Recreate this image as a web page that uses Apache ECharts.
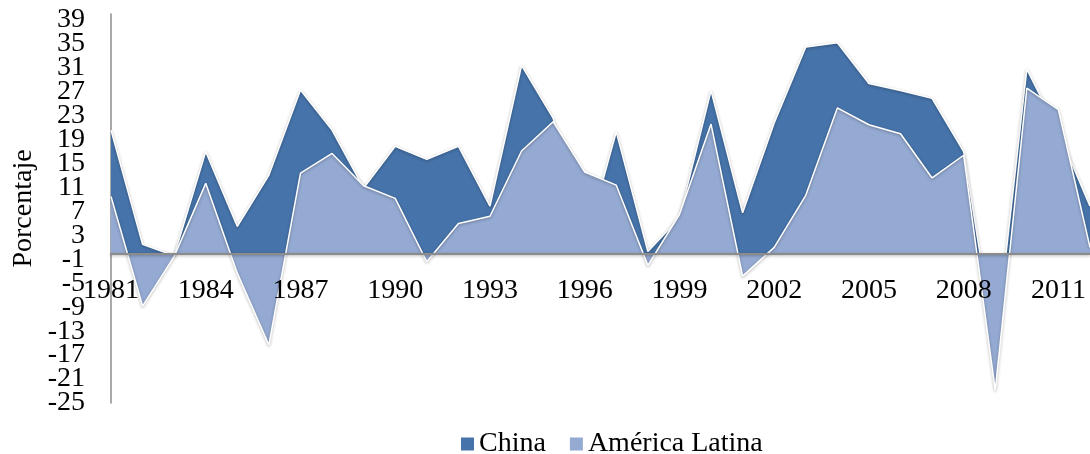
<!DOCTYPE html>
<html>
<head>
<meta charset="utf-8">
<script src="https://cdn.jsdelivr.net/npm/echarts@6/dist/echarts.min.js"></script>
<style>
  html, body { margin: 0; padding: 0; background: #ffffff; }
  #chart { width: 1090px; height: 454px; }
</style>
</head>
<body>
<div id="chart"></div>
<script>
// Crecimiento anual (%), 1981-2012
const years = [
  '1981','1982','1983','1984','1985','1986','1987','1988','1989','1990',
  '1991','1992','1993','1994','1995','1996','1997','1998','1999','2000',
  '2001','2002','2003','2004','2005','2006','2007','2008','2009','2010',
  '2011','2012'
];
const china = [
  20.6, 1.5, -0.4, 17.0, 4.5, 13.1, 27.3, 20.6, 10.9, 17.9,
  15.7, 17.9, 7.9, 31.4, 22.6, 1.2, 20.3, 0.3, 5.9, 27.2,
  6.8, 21.8, 34.5, 35.2, 28.4, 27.2, 25.9, 17.0, -16.0, 30.8,
  20.3, 7.9
];
const americaLatina = [
  9.5, -8.8, -0.5, 11.7, -3.3, -15.3, 13.4, 16.7, 11.3, 9.2,
  -1.4, 5.0, 6.2, 17.1, 22.0, 13.6, 11.4, -2.0, 6.5, 21.6,
  -3.8, 1.0, 9.7, 24.3, 21.5, 20.0, 12.6, 16.4, -22.9, 27.6,
  24.0, 1.0
];
const seriesNames = ['China', 'América Latina'];

const Y_MIN = -25, Y_MAX = 40, Y_STEP = 4;
const GRID = { left: 111, right: 0, top: 14, bottom: 51 };
const H = 454;
const plotH = H - GRID.top - GRID.bottom;
const pxPerUnit = plotH / (Y_MAX - Y_MIN);
// pixel row of the zero line; the year labels hang just under it
const zeroY = GRID.top + pxPerUnit * Y_MAX;
// the tick labels use an axis that starts one step lower, on the same scale,
// so the lowest label (-25) is not treated as the axis minimum
const labelMin = Y_MIN - Y_STEP;

const FONT = '"Liberation Serif", "Times New Roman", serif';
const chart = echarts.init(document.getElementById('chart'), null, { renderer: 'canvas' });

const edge = {
  color: '#ffffff',
  width: 1.5,
  shadowColor: 'rgba(0,0,0,0.35)',
  shadowBlur: 3,
  shadowOffsetY: 1
};

chart.setOption({
  animation: false,
  backgroundColor: '#ffffff',
  grid: [
    Object.assign({ containLabel: false, outerBoundsMode: 'none' }, GRID),
    {
      left: GRID.left, right: GRID.right, top: GRID.top,
      bottom: H - zeroY,
      containLabel: false, outerBoundsMode: 'none'
    },
    {
      left: GRID.left, right: GRID.right, top: GRID.top,
      bottom: GRID.bottom - pxPerUnit * Y_STEP,
      containLabel: false, outerBoundsMode: 'none'
    }
  ],
  legend: {
    left: 456,
    top: 425,
    itemWidth: 13,
    itemHeight: 13,
    itemGap: 24,
    icon: 'rect',
    textStyle: { fontFamily: FONT, fontSize: 28, color: '#000000' },
    data: seriesNames
  },
  xAxis: [
    {
      type: 'category',
      gridIndex: 0,
      data: years,
      boundaryGap: false,
      z: 10,
      axisLine: {
        onZero: true,
        lineStyle: { color: '#8c8c8c', width: 2, shadowColor: 'rgba(0,0,0,0.3)', shadowBlur: 3, shadowOffsetY: 1 }
      },
      axisTick: { show: false },
      axisLabel: { show: false },
      splitLine: { show: false }
    },
    {
      type: 'category',
      gridIndex: 1,
      position: 'bottom',
      data: years,
      boundaryGap: false,
      z: 10,
      axisLine: { show: false, onZero: false },
      axisTick: { show: false },
      axisLabel: {
        interval: 2,
        margin: 23,
        fontFamily: FONT,
        fontSize: 28,
        color: '#000000'
      },
      splitLine: { show: false }
    },
    {
      type: 'category',
      gridIndex: 2,
      data: years,
      show: false
    }
  ],
  yAxis: [
    {
      type: 'value',
      gridIndex: 0,
      min: Y_MIN,
      max: Y_MAX,
      interval: Y_STEP,
      name: 'Porcentaje',
      nameLocation: 'middle',
      nameRotate: 90,
      nameGap: 73,
      nameTextStyle: { fontFamily: FONT, fontSize: 28, color: '#000000' },
      axisLine: { show: true, lineStyle: { color: '#8c8c8c', width: 1.5 } },
      axisTick: { show: false },
      axisLabel: { show: false },
      splitLine: { show: false }
    },
    {
      type: 'value',
      gridIndex: 1,
      min: 0,
      max: 1,
      show: false
    },
    {
      type: 'value',
      gridIndex: 2,
      min: labelMin,
      max: Y_MAX,
      interval: Y_STEP,
      axisLine: { show: false },
      axisTick: { show: false },
      axisLabel: {
        showMinLabel: false,
        showMaxLabel: false,
        margin: 26,
        fontFamily: FONT,
        fontSize: 28,
        color: '#000000'
      },
      splitLine: { show: false }
    }
  ],
  series: [
    {
      name: seriesNames[0],
      type: 'line',
      z: 2,
      data: china,
      symbol: 'none',
      itemStyle: { color: '#4673a9' },
      lineStyle: edge,
      areaStyle: { color: '#4673a9', opacity: 1 }
    },
    {
      name: seriesNames[1],
      type: 'line',
      z: 3,
      data: americaLatina,
      symbol: 'none',
      itemStyle: { color: '#95aad2' },
      lineStyle: edge,
      areaStyle: { color: '#95aad2', opacity: 1 }
    }
  ]
});
</script>
</body>
</html>
